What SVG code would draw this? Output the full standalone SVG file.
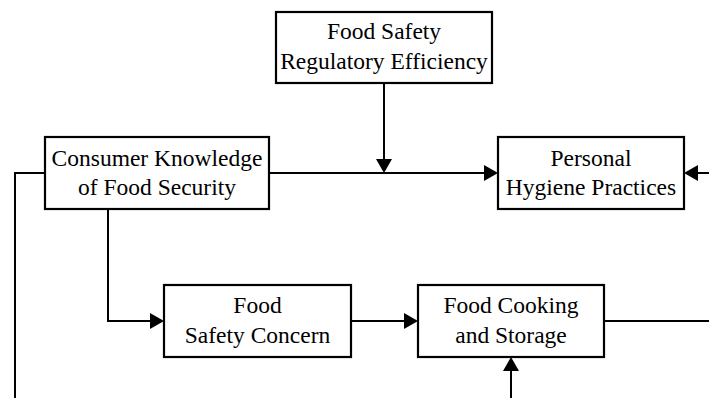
<svg xmlns="http://www.w3.org/2000/svg" width="709" height="398" viewBox="0 0 709 398">
<style>
.box{fill:#fff;stroke:#000;stroke-width:2.2}
.lbl{font-family:"Liberation Serif","Times New Roman",serif;font-size:23.5px;fill:#000;text-anchor:middle}
.con{fill:none;stroke:#000;stroke-width:2}
</style>
<defs>
<marker id="ah" markerUnits="userSpaceOnUse" markerWidth="14" markerHeight="16" refX="11" refY="8" orient="auto">
<path d="M0,0 L14,8 L0,16 z" fill="#000"/>
</marker>
</defs>
<rect width="709" height="398" fill="#fff"/>
<g id="connectors">
<path class="con" d="M384,83 V170" marker-end="url(#ah)"/>
<path class="con" d="M269,173 H495" marker-end="url(#ah)"/>
<path class="con" d="M709,173 H687" marker-end="url(#ah)"/>
<path class="con" d="M45,173 H15 V398"/>
<path class="con" d="M108,209 V321 H161" marker-end="url(#ah)"/>
<path class="con" d="M351,321 H415" marker-end="url(#ah)"/>
<path class="con" d="M604,321 H709"/>
<path class="con" d="M511,398 V360" marker-end="url(#ah)"/>
</g>
<g id="regulatory">
<rect class="box" x="276" y="12" width="216" height="71"/>
<text class="lbl" x="384" y="39">Food Safety</text>
<text class="lbl" x="384" y="69">Regulatory Efficiency</text>
</g>
<g id="consumer">
<rect class="box" x="45" y="137" width="224" height="72"/>
<text class="lbl" x="157" y="166">Consumer Knowledge</text>
<text class="lbl" x="157" y="195">of Food Security</text>
</g>
<g id="hygiene">
<rect class="box" x="498" y="137" width="186" height="72"/>
<text class="lbl" x="591" y="166">Personal</text>
<text class="lbl" x="591" y="195">Hygiene Practices</text>
</g>
<g id="concern">
<rect class="box" x="164" y="285" width="187" height="72"/>
<text class="lbl" x="257.5" y="313">Food</text>
<text class="lbl" x="257.5" y="343">Safety Concern</text>
</g>
<g id="cooking">
<rect class="box" x="418" y="285" width="186" height="72"/>
<text class="lbl" x="511" y="313">Food Cooking</text>
<text class="lbl" x="511" y="343">and Storage</text>
</g>
</svg>
